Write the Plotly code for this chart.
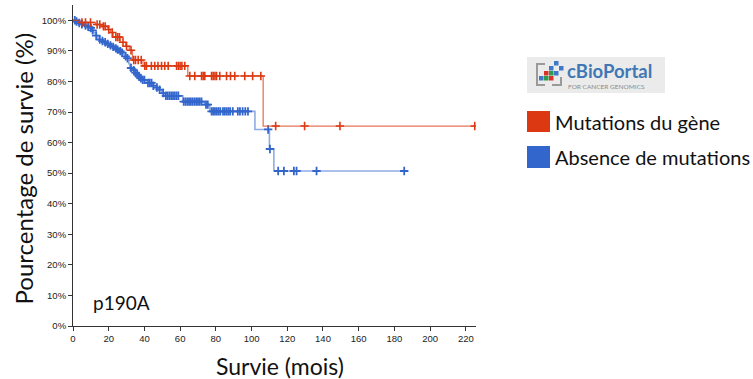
import numpy as np
import plotly.graph_objects as go

# ---------------- data ----------------
red_step_times = [0, 3.8, 12.5, 16.5, 19.5, 21, 22.5, 26.5, 29.5, 31.5, 33.3, 39.2, 64.3, 106.5, 225]
red_step_surv = [100, 99.3, 98.6, 98.0, 97.0, 96.0, 94.5, 92.8, 91.5, 90.2, 87.0, 85.1, 81.8, 65.4, 65.4]
red_censor_times = [5, 7, 9.8, 13.5, 15, 17, 18, 20, 22, 24, 25, 26, 28, 30, 32.5, 34, 35, 36.5, 38.2,
                    40.2, 41.1, 43.9, 45.8, 47.6, 49.6, 51.4, 53.3, 58, 59, 60, 61, 62.6, 65.4, 68.2,
                    72, 72.9, 73.8, 77.6, 78.5, 79.5, 80.4, 82.2, 86, 88.2, 90.6, 96.2, 100.6, 105.2,
                    113.5, 129.7, 149.5, 225]

blue_step_times = [0, 1.5, 3, 4.5, 6, 8, 9.5, 10.5, 11.5, 12.5, 14, 16, 17, 19, 20.5, 22, 23.5, 24.5,
                   26, 27, 28, 29, 30, 30.8, 31.3, 31.8, 33, 34.5, 35.5, 36.5, 37.5, 38.5, 41, 44.8,
                   46, 47.6, 49.6, 51.4, 61.5, 73.8, 76.6, 101.9, 110, 112.5, 185.5]
blue_step_surv = [100, 99.6, 99.1, 98.7, 98.3, 97.9, 97.5, 96.7, 95.9, 95.0, 93.7, 93.2, 92.8, 92.3,
                  91.8, 91.3, 90.8, 90.4, 89.9, 89.4, 88.8, 88.2, 87.6, 87.1, 85.8, 84.4, 83.7, 82.9,
                  82.2, 81.6, 81.0, 80.5, 79.5, 78.6, 78.0, 77.3, 76.2, 75.3, 73.4, 72.4, 70.2, 64.3,
                  57.9, 50.7, 50.7]
blue_censor_times = [1, 2, 3.5, 5, 7, 8.5, 10, 11, 13, 15, 16.5, 18, 19.5, 21, 22.5, 24, 25, 26.5,
                     27.5, 29.5, 30.5, 32.5, 34, 35, 36, 37, 38, 39, 40, 42, 43, 44, 45, 47, 48.5,
                     50.5, 52, 53, 54, 55, 56, 57, 58, 59, 62, 63, 64, 65, 66, 67, 68, 69, 70, 71,
                     72, 74.5, 75.5, 77.6, 78.5, 79.5, 80.5, 81.5, 82.5, 84, 85, 86, 87, 88, 89.5,
                     92.3, 93.5, 95, 96.5, 98, 109.3, 110.3, 114.9, 118.1, 123.7, 125.2, 136.4, 185.5]

x_ticks = [0, 20, 40, 60, 80, 100, 120, 140, 160, 180, 200, 220]
y_ticks = [0, 10, 20, 30, 40, 50, 60, 70, 80, 90, 100]
y_tick_labels = [f"{v}%" for v in y_ticks]

series_names = ["Mutations du gène", "Absence de mutations"]
RED = "#dc3912"
BLUE = "#3366cc"


def surv_at(times, steps_t, steps_s):
    idx = np.searchsorted(np.array(steps_t), np.array(times), side="right") - 1
    return [steps_s[i] for i in idx]


fig = go.Figure()

fig.add_trace(go.Scatter(x=blue_step_times, y=blue_step_surv, mode="lines",
                         line=dict(color="rgba(51,102,204,0.55)", width=1.6, shape="hv"),
                         showlegend=False, hoverinfo="skip"))
fig.add_trace(go.Scatter(x=blue_censor_times,
                         y=surv_at(blue_censor_times, blue_step_times, blue_step_surv),
                         mode="markers",
                         marker=dict(symbol="cross-thin", size=6, color=BLUE,
                                     line=dict(width=1.8, color=BLUE)),
                         showlegend=False, name=series_names[1]))
fig.add_trace(go.Scatter(x=red_step_times, y=red_step_surv, mode="lines",
                         line=dict(color="rgba(220,57,18,0.7)", width=1.3, shape="hv"),
                         showlegend=False, hoverinfo="skip"))
fig.add_trace(go.Scatter(x=red_censor_times,
                         y=surv_at(red_censor_times, red_step_times, red_step_surv),
                         mode="markers",
                         marker=dict(symbol="cross-thin", size=6, color=RED,
                                     line=dict(width=1.6, color=RED)),
                         showlegend=False, name=series_names[0]))

W, H = 753, 379
L, R, T, B = 73, 277, 5, 53
PW, PH = W - L - R, H - T - B

fig.update_layout(
    width=W, height=H, autosize=False,
    margin=dict(l=L, r=R, t=T, b=B, pad=0, autoexpand=False),
    paper_bgcolor="white", plot_bgcolor="white",
    showlegend=False,
    xaxis=dict(range=[0, 225.7], tickvals=x_ticks, showgrid=False, zeroline=False,
               showline=True, linecolor="#333", linewidth=1, ticks="outside",
               ticklen=4, tickcolor="#333", automargin=False,
               tickfont=dict(family="Liberation Sans", size=9.5, color="#222")),
    yaxis=dict(range=[0, 105], tickvals=y_ticks, ticktext=y_tick_labels, showgrid=False,
               zeroline=False, showline=True, linecolor="#333", linewidth=1,
               ticks="outside", ticklen=4, tickcolor="#333", automargin=False,
               tickfont=dict(family="Liberation Sans", size=9.5, color="#222")),
)


def px(xp):
    return (xp - L) / PW


def py(yp):
    return (H - B - yp) / PH


def note(xp, yp, text, size, color="#111", xanchor="left", angle=0, family="Lato"):
    fig.add_annotation(x=px(xp), y=py(yp), xref="paper", yref="paper", text=text,
                       showarrow=False, xanchor=xanchor, yanchor="middle", textangle=angle,
                       font=dict(family=family, size=size, color=color))


# axis titles
note(280, 366, "Survie (mois)", 23, xanchor="center")
note(23, 168.5, "Pourcentage de survie (%)", 24, xanchor="center", angle=-90)
# p190A label
note(91, 302, "p190A", 19)

shapes = []
# cBioPortal logo box
shapes.append(dict(type="rect", xref="paper", yref="paper", x0=px(527), x1=px(665),
                   y0=py(93), y1=py(57), fillcolor="#ebebeb", line=dict(width=0)))
# logo icon: grey bracket
shapes.append(dict(type="path", xref="paper", yref="paper",
                   path=f"M {px(545)} {py(64)} L {px(537)} {py(64)} L {px(537)} {py(85)} L {px(545)} {py(85)}",
                   line=dict(color="#9a9a9a", width=2)))
shapes.append(dict(type="path", xref="paper", yref="paper",
                   path=f"M {px(552)} {py(85)} L {px(561)} {py(85)} L {px(561)} {py(77)}",
                   line=dict(color="#9a9a9a", width=2)))
# icon squares
for (x0, y0, c) in [(554, 61, "#3f78c8"), (559, 66, "#3f78c8"), (549, 66, "#3f78c8"),
                    (544, 71, "#d8332b"), (549, 71, "#2e9a4a"), (544, 76, "#2e9a4a"),
                    (549, 76, "#d8332b"), (539, 76, "#3f78c8"), (554, 71, "#3f78c8")]:
    shapes.append(dict(type="rect", xref="paper", yref="paper", x0=px(x0), x1=px(x0 + 4.5),
                       y0=py(y0 + 4.5), y1=py(y0), fillcolor=c, line=dict(width=0)))
# legend squares
shapes.append(dict(type="rect", xref="paper", yref="paper", x0=px(527), x1=px(550),
                   y0=py(132), y1=py(111), fillcolor=RED, line=dict(width=0)))
shapes.append(dict(type="rect", xref="paper", yref="paper", x0=px(527), x1=px(550),
                   y0=py(168), y1=py(146), fillcolor=BLUE, line=dict(width=0)))
fig.update_layout(shapes=shapes)

note(565, 71, "<b>cBioPortal</b>", 18.5, color="#3f78b5")
note(566, 86.5, "FOR CANCER GENOMICS", 6.5, color="#8a8a8a")

note(553, 122, series_names[0], 20)
note(553, 157, series_names[1], 20)

fig.write_html("out.html", config={"displayModeBar": False},
               post_script="document.body.style.margin='0px';")
